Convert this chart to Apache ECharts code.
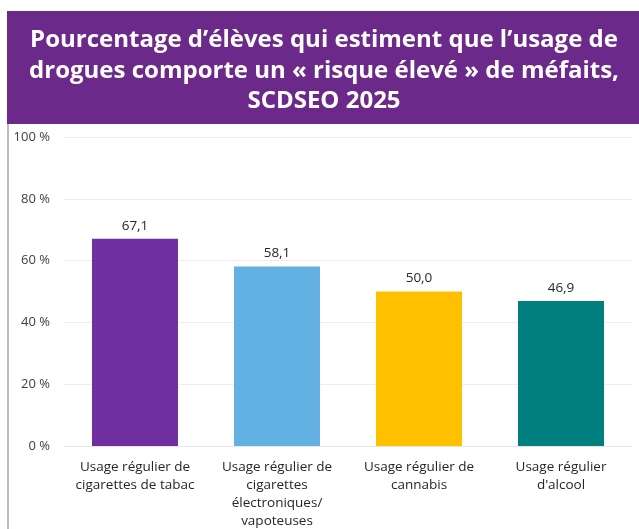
<!DOCTYPE html>
<html>
<head>
<meta charset="utf-8">
<script src="https://cdn.jsdelivr.net/npm/echarts@6/dist/echarts.min.js"></script>
<style>
  html, body { margin: 0; padding: 0; background: #fff; }
  #chart { width: 639px; height: 529px; }
</style>
</head>
<body>
<div id="chart"></div>
<script>
const categories = [
  'Usage régulier de\ncigarettes de tabac',
  'Usage régulier de\ncigarettes\nélectroniques/\nvapoteuses',
  'Usage régulier de\ncannabis',
  'Usage régulier\nd\'alcool'
]
const values = [67.1, 58.1, 50.0, 46.9]
const barColors = ['#7030A0', '#63B0E3', '#FFC000', '#007F7F']
const titleText = 'Pourcentage d’élèves qui estiment que l’usage de\ndrogues comporte un « risque élevé » de méfaits,\nSCDSEO 2025'

const chart = echarts.init(document.getElementById('chart'))

chart.setOption({
  animation: false,
  graphic: [
    {
      type: 'rect',
      shape: { x: 7, y: 11, width: 632, height: 113 },
      style: { fill: '#6B2A8A' },
      z: 0
    },
    {
      type: 'line',
      shape: { x1: 8, y1: 124, x2: 8, y2: 529 },
      style: { stroke: '#A6A6A6', lineWidth: 1.5 }
    },
    {
      type: 'text',
      x: 324,
      y: 25,
      style: {
        text: titleText,
        fill: '#fff',
        font: 'bold 24px "Open Sans", sans-serif',
        textAlign: 'center',
        lineHeight: 30.5
      }
    }
  ],
  grid: { left: 64, right: 7, top: 137, bottom: 83, outerBoundsMode: 'none' },
  xAxis: {
    type: 'category',
    data: categories,
    axisLine: { lineStyle: { color: '#E6E6E6' } },
    axisTick: { show: false },
    axisLabel: {
      color: '#262626',
      fontSize: 13.5,
      lineHeight: 18,
      margin: 12,
      fontFamily: 'Open Sans, sans-serif',
      interval: 0
    }
  },
  yAxis: {
    type: 'value',
    min: 0,
    max: 100,
    interval: 20,
    axisLine: { show: false },
    axisTick: { show: false },
    splitLine: { lineStyle: { color: '#EDEDED' } },
    axisLabel: {
      formatter: '{value} %',
      color: '#404040',
      fontSize: 13,
      margin: 14,
      fontFamily: 'Open Sans, sans-serif'
    }
  },
  series: [{
    type: 'bar',
    data: values.map((v, i) => ({ value: v, itemStyle: { color: barColors[i] } })),
    barWidth: 86,
    label: {
      show: true,
      position: 'top',
      distance: 6,
      color: '#262626',
      fontSize: 13.5,
      fontFamily: 'Open Sans, sans-serif',
      formatter: p => p.value.toFixed(1).replace('.', ',')
    }
  }]
})
</script>
</body>
</html>
